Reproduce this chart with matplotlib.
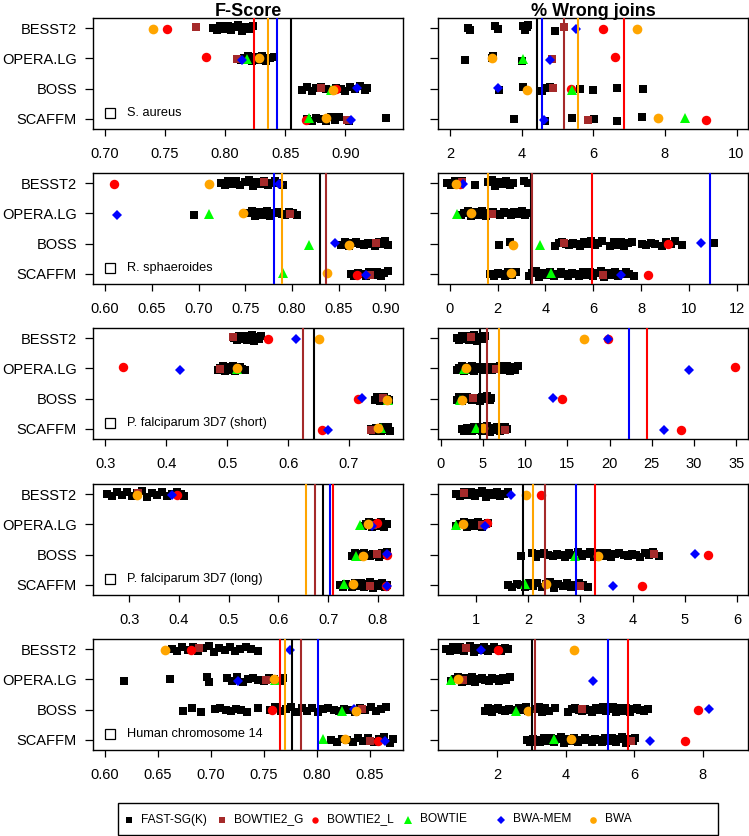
import matplotlib
matplotlib.use('Agg')
import matplotlib.pyplot as plt
from matplotlib.lines import Line2D
from matplotlib.patches import Rectangle

plt.rcParams['font.family'] = ['Liberation Sans', 'DejaVu Sans']

# ---------------- data ----------------
rows = ['BESST2', 'OPERA.LG', 'BOSS', 'SCAFFM']
methods = ['FAST-SG(K)', 'BOWTIE2_G', 'BOWTIE2_L', 'BOWTIE', 'BWA-MEM', 'BWA']
datasets = ['S. aureus', 'R. sphaeroides', 'P. falciparum 3D7 (short)',
            'P. falciparum 3D7 (long)', 'Human chromosome 14']

# S. aureus
sa_fs_fast = [
    [0.790, 0.793, 0.796, 0.799, 0.802, 0.805, 0.808, 0.811, 0.814, 0.817, 0.820, 0.823],
    [0.813, 0.816, 0.819, 0.822, 0.825, 0.828, 0.831, 0.834, 0.837, 0.841],
    [0.864, 0.868, 0.872, 0.876, 0.880, 0.884, 0.888, 0.892, 0.896, 0.900, 0.904, 0.908, 0.912, 0.916, 0.918],
    [0.868, 0.872, 0.876, 0.880, 0.884, 0.888, 0.891, 0.895, 0.903, 0.934],
]
sa_fs_tools = [  # BOWTIE2_G, BOWTIE2_L, BOWTIE, BWA-MEM, BWA
    [0.776, 0.752, None, None, 0.740],
    [0.810, 0.784, 0.818, 0.814, 0.828],
    [0.880, 0.892, 0.888, 0.910, 0.890],
    [0.901, 0.867, 0.870, 0.905, 0.884],
]
sa_fs_lines = [0.855, None, 0.824, None, 0.843, 0.836]
sa_wj_fast = [
    [2.51, 2.56, 3.26, 3.35, 4.05, 4.10, 4.14, 4.19, 4.93],
    [2.42, 3.16, 3.20, 4.00],
    [3.37, 4.05, 4.56, 4.65, 4.79, 5.63, 6.00, 6.67, 7.38],
    [3.80, 4.65, 5.40, 6.03, 6.67, 7.35],
]
sa_wj_tools = [
    [5.18, 6.26, None, 5.53, 7.21],
    [4.84, 6.60, 4.03, 4.79, 3.18],
    [4.87, 5.38, 5.41, 3.35, 4.14],
    [5.84, 9.14, 8.56, 4.62, 7.80],
]
sa_wj_lines = [4.42, 5.18, 6.86, None, 4.58, 5.58]

# R. sphaeroides
rs_fs_fast = [
    [0.724, 0.728, 0.732, 0.736, 0.740, 0.744, 0.750, 0.754, 0.758, 0.762, 0.766, 0.770, 0.774, 0.778, 0.782, 0.786, 0.790],
    [0.695, 0.753, 0.757, 0.761, 0.765, 0.769, 0.773, 0.777, 0.781, 0.785, 0.789, 0.793, 0.797, 0.801, 0.805],
    [0.853, 0.857, 0.861, 0.865, 0.869, 0.873, 0.877, 0.881, 0.885, 0.889, 0.893, 0.897, 0.900, 0.903],
    [0.863, 0.867, 0.871, 0.875, 0.879, 0.883, 0.887, 0.891, 0.895, 0.899, 0.903],
]
rs_fs_tools = [
    [0.770, 0.610, None, 0.786, 0.711],
    [0.798, None, 0.711, 0.613, 0.748],
    [0.890, None, 0.818, 0.846, 0.861],
    [0.884, 0.870, 0.790, 0.879, 0.838],
]
rs_fs_lines = [0.830, 0.836, None, None, 0.781, 0.789]
rs_wj_fast = [
    [-0.10, 0.05, 0.20, 0.35, 0.50, 1.05, 1.60, 1.75, 1.90, 2.05, 2.20, 2.35, 2.50, 2.65, 3.10, 3.25],
    [0.45, 0.60, 0.75, 0.90, 1.05, 1.20, 1.35, 1.50, 1.65, 1.80, 1.95, 2.10, 2.25, 2.40, 2.55, 2.70, 2.85, 3.00, 3.15, 3.30],
    [2.05, 2.51, 4.40, 4.55, 4.70, 4.85, 5.00, 5.15, 5.30, 5.45, 5.60, 5.75, 5.90, 6.05, 6.20, 6.35,
     6.70, 6.85, 7.00, 7.15, 7.30, 7.45, 7.60, 8.02, 8.20, 8.40, 8.58, 8.86, 9.05, 9.25, 9.42, 9.70, 11.02],
    [1.70, 1.85, 2.00, 2.15, 2.30, 2.45, 2.60, 2.75, 3.30, 3.45, 3.60, 3.75, 3.90, 4.05, 4.20, 4.35, 4.50,
     4.65, 4.80, 4.95, 5.10, 5.25, 5.40, 5.55, 5.70, 5.85, 6.00, 6.15, 6.30, 6.45, 6.60, 6.75, 6.90, 7.05,
     7.20, 7.35, 7.50, 7.70],
]
rs_wj_tools = [
    [0.52, 0.42, None, 0.56, 0.28],
    [1.77, None, 0.31, None, 0.87],
    [4.77, 9.10, 3.77, 10.51, 2.65],
    [6.42, 8.30, 4.21, 7.16, 2.54],
]
rs_wj_lines = [3.39, 3.42, 5.94, None, 10.86, 1.60]

# P. falciparum 3D7 (short)
pfs_fs_fast = [
    [0.512, 0.516, 0.520, 0.524, 0.528, 0.532, 0.536, 0.540, 0.544, 0.548, 0.552, 0.556],
    [0.485, 0.489, 0.493, 0.497, 0.501, 0.505, 0.509, 0.513, 0.517, 0.521, 0.525, 0.529],
    [0.742, 0.746, 0.750, 0.754, 0.758, 0.762, 0.766],
    [0.736, 0.740, 0.744, 0.748, 0.752, 0.756, 0.760, 0.764, 0.767],
]
pfs_fs_tools = [
    [0.510, 0.567, None, 0.613, 0.651],
    [0.489, 0.329, 0.516, 0.422, 0.517],
    [0.756, 0.714, 0.764, 0.722, 0.762],
    [0.736, 0.656, 0.752, 0.665, 0.748],
]
pfs_fs_lines = [0.642, 0.625, None, None, None, None]
pfs_wj_fast = [
    [1.9, 2.2, 2.5, 2.8, 3.1, 3.4, 3.7, 4.0, 4.3, 4.6, 4.9, 5.2],
    [1.9, 2.2, 2.5, 2.8, 3.1, 3.4, 3.7, 4.0, 4.3, 4.6, 4.9, 5.2, 5.5, 5.8, 6.1, 6.4, 6.7, 7.0, 7.3,
     7.6, 7.9, 8.2, 8.5, 8.8, 9.1],
    [1.9, 2.2, 2.5, 2.8, 3.1, 3.4, 3.7, 4.0, 4.3, 4.6, 4.9, 5.2, 5.5, 5.8, 6.0],
    [2.5, 2.8, 3.1, 3.4, 3.7, 4.0, 4.3, 4.6, 4.9, 5.2, 5.5, 5.8, 6.1, 6.4, 6.7, 7.0, 7.3, 7.6, 7.9],
]
pfs_wj_tools = [
    [3.64, 19.77, None, 19.85, 17.00],
    [6.60, 34.88, 2.77, 29.34, 3.04],
    [3.84, 14.31, 2.25, 13.25, 2.53],
    [7.59, 28.43, 4.15, 26.41, 5.02],
]
pfs_wj_lines = [4.63, 5.50, 24.40, None, 22.30, 6.92]

# P. falciparum 3D7 (long)
pfl_fs_fast = [
    [0.255, 0.265, 0.275, 0.285, 0.295, 0.305, 0.315, 0.325, 0.335, 0.345, 0.355, 0.365, 0.375,
     0.385, 0.395, 0.405, 0.410],
    [0.770, 0.776, 0.782, 0.788, 0.794, 0.800, 0.806, 0.812, 0.818],
    [0.748, 0.754, 0.760, 0.766, 0.772, 0.778, 0.784, 0.790, 0.796, 0.802, 0.808, 0.814, 0.818],
    [0.724, 0.730, 0.736, 0.742, 0.748, 0.754, 0.760, 0.766, 0.772, 0.778, 0.784, 0.790, 0.796,
     0.802, 0.808, 0.814, 0.818],
]
pfl_fs_tools = [
    [0.318, 0.395, None, 0.385, 0.316],
    [0.790, 0.798, 0.764, 0.788, 0.781],
    [0.798, 0.818, 0.757, 0.818, 0.771],
    [0.785, 0.817, 0.733, 0.818, 0.750],
]
pfl_fs_lines = [0.689, 0.674, 0.709, None, 0.703, 0.655]
pfl_wj_fast = [
    [0.63, 0.70, 0.77, 0.84, 0.91, 0.98, 1.05, 1.12, 1.19, 1.26, 1.33, 1.40, 1.47, 1.54, 1.61],
    [0.63, 0.70, 0.77, 0.84, 0.91, 0.98, 1.05, 1.12, 1.19, 1.24],
    [1.86, 2.07, 2.15, 2.23, 2.31, 2.39, 2.47, 2.55, 2.63, 2.71, 2.79, 2.87, 2.95, 3.03, 3.11, 3.19,
     3.27, 3.35, 3.43, 3.51, 3.59, 3.67, 3.75, 3.83, 3.91, 3.99, 4.07, 4.15, 4.23, 4.31, 4.39, 4.50],
    [1.62, 1.70, 1.78, 1.86, 1.94, 2.02, 2.10, 2.18, 2.26, 2.34, 2.42, 2.50, 2.58, 2.66, 2.74, 2.82,
     2.90, 2.98, 3.06, 3.15],
]
pfl_wj_tools = [
    [0.776, 2.24, None, 1.67, 1.96],
    [1.11, 1.22, 0.63, 1.17, 0.757],
    [4.41, 5.44, 2.89, 5.19, 3.33],
    [2.99, 4.18, 1.94, 3.63, 2.34],
]
pfl_wj_lines = [1.895, 2.32, 3.28, None, 2.92, 2.087]

# Human chromosome 14
hc_fs_fast = [
    [0.663, 0.668, 0.673, 0.678, 0.683, 0.688, 0.693, 0.698, 0.703, 0.708, 0.713, 0.718, 0.723,
     0.728, 0.733, 0.738, 0.745],
    [0.618, 0.661, 0.696, 0.698, 0.715, 0.720, 0.725, 0.730, 0.735, 0.740, 0.745, 0.750, 0.755,
     0.760, 0.765, 0.768],
    [0.674, 0.682, 0.691, 0.704, 0.709, 0.714, 0.719, 0.724, 0.729, 0.734, 0.745, 0.756, 0.761,
     0.766, 0.771, 0.776, 0.781, 0.786, 0.791, 0.796, 0.801, 0.806, 0.811, 0.816, 0.821, 0.826,
     0.831, 0.836, 0.841, 0.846, 0.851, 0.856, 0.861, 0.866],
    [0.814, 0.819, 0.824, 0.829, 0.834, 0.839, 0.844, 0.849, 0.854, 0.859, 0.864, 0.869, 0.872],
]
hc_fs_tools = [
    [0.689, 0.681, None, 0.775, 0.657],
    [0.752, None, 0.761, 0.726, 0.760],
    [0.843, 0.758, 0.824, 0.835, 0.837],
    [0.850, 0.858, 0.806, 0.865, 0.827],
]
hc_fs_lines = [0.777, 0.785, 0.765, None, 0.801, 0.770]
hc_wj_fast = [
    [0.51, 0.61, 0.71, 0.81, 0.91, 1.01, 1.11, 1.21, 1.31, 1.41, 1.51, 1.61, 1.71, 1.81, 1.91,
     2.01, 2.11, 2.21, 2.31],
    [0.65, 0.75, 0.85, 0.95, 1.05, 1.15, 1.25, 1.35, 1.45, 1.55, 1.65, 1.75, 1.85, 1.95, 2.05,
     2.15, 2.25, 2.36],
    [1.63, 1.73, 1.83, 1.93, 2.03, 2.13, 2.23, 2.33, 2.43, 2.53, 2.63, 2.73, 2.83, 2.90, 3.10,
     3.20, 3.30, 3.40, 3.50, 3.68, 4.07, 4.17, 4.27, 4.37, 4.47, 4.57, 4.67, 4.77, 4.87, 4.97,
     5.07, 5.17, 5.27, 5.37, 5.47, 5.57, 5.67, 5.77, 5.87, 5.97, 6.07, 6.17, 6.27, 6.41],
    [2.85, 2.95, 3.05, 3.15, 3.25, 3.35, 3.45, 3.55, 3.65, 3.75, 3.85, 3.95, 4.05, 4.15, 4.25,
     4.35, 4.45, 4.55, 4.65, 4.75, 4.85, 4.95, 5.05, 5.15, 5.25, 5.35, 5.45, 5.55, 5.65, 5.75,
     5.85, 5.95, 6.02],
]
hc_wj_tools = [
    [1.09, 2.02, None, 1.51, 4.23],
    [0.995, None, 0.63, 4.78, 0.85],
    [4.46, 7.87, 2.53, 8.17, 2.90],
    [5.90, 7.48, 3.66, 6.46, 4.14],
]
hc_wj_lines = [3.015, 3.11, 5.80, None, 5.22, None]

# ---------------- styles ----------------
colors = ['#000000', '#A52A2A', '#FF0000', '#00FF00', '#0000FF', '#FFA500']
markers = ['s', 's', 'o', '^', 'D', 'o']
msizes = [5.6, 6.0, 6.8, 7.5, 5.0, 7.0]
# fixed vertical spread pattern (stripchart-style jitter) for the dense FAST-SG rows
jit = [0.00, -0.07, 0.05, -0.02, 0.08, -0.05, 0.02, 0.09, -0.09, 0.04, -0.04, 0.07, -0.08, 0.01,
       0.06, -0.01, -0.06, 0.03]
tool_jit = [0.02, -0.03, 0.03, -0.02, -0.04]

panels = [
    (sa_fs_fast, sa_fs_tools, sa_fs_lines, sa_wj_fast, sa_wj_tools, sa_wj_lines,
     (0.690, 0.948), [0.70, 0.75, 0.80, 0.85, 0.90], ['0.70', '0.75', '0.80', '0.85', '0.90'],
     (1.665, 10.32), [2, 4, 6, 8, 10]),
    (rs_fs_fast, rs_fs_tools, rs_fs_lines, rs_wj_fast, rs_wj_tools, rs_wj_lines,
     (0.587, 0.919), [0.60, 0.65, 0.70, 0.75, 0.80, 0.85, 0.90],
     ['0.60', '0.65', '0.70', '0.75', '0.80', '0.85', '0.90'],
     (-0.49, 12.46), [0, 2, 4, 6, 8, 10, 12]),
    (pfs_fs_fast, pfs_fs_tools, pfs_fs_lines, pfs_wj_fast, pfs_wj_tools, pfs_wj_lines,
     (0.280, 0.7885), [0.3, 0.4, 0.5, 0.6, 0.7], ['0.3', '0.4', '0.5', '0.6', '0.7'],
     (-0.32, 36.38), [0, 5, 10, 15, 20, 25, 30, 35]),
    (pfl_fs_fast, pfl_fs_tools, pfl_fs_lines, pfl_wj_fast, pfl_wj_tools, pfl_wj_lines,
     (0.227, 0.8507), [0.3, 0.4, 0.5, 0.6, 0.7, 0.8], ['0.3', '0.4', '0.5', '0.6', '0.7', '0.8'],
     (0.277, 6.21), [1, 2, 3, 4, 5, 6]),
    (hc_fs_fast, hc_fs_tools, hc_fs_lines, hc_wj_fast, hc_wj_tools, hc_wj_lines,
     (0.5887, 0.8816), [0.60, 0.65, 0.70, 0.75, 0.80, 0.85],
     ['0.60', '0.65', '0.70', '0.75', '0.80', '0.85'],
     (0.263, 9.32), [2, 4, 6, 8]),
]

W, H = 749, 836
fig = plt.figure(figsize=(W / 100, H / 100), dpi=100)

tops = [18, 173, 328, 484, 639]
ph = 111
lefts = [93, 438]
pw = 310


def draw(ax, fast, tools, lines, xlim, xticks, xlabels, show_y):
    ax.set_xlim(*xlim)
    ax.set_ylim(0.67, 4.33)
    for r, vals in enumerate(fast):
        y = 4 - r
        ys = [y + jit[(j + 5 * r) % len(jit)] for j in range(len(vals))]
        ax.plot(vals, ys, linestyle='none', marker=markers[0],
                color=colors[0], ms=msizes[0], mew=0, zorder=2)
    for k in range(5):
        for r in range(4):
            v = tools[r][k]
            if v is None:
                continue
            ax.plot([v], [4 - r + tool_jit[(k + r) % 5]], linestyle='none', marker=markers[k + 1],
                    color=colors[k + 1], ms=msizes[k + 1], mew=0, zorder=3 + k)
    for k, v in enumerate(lines):
        if v is not None:
            ax.axvline(v, color=colors[k], lw=1.5, zorder=10)
    ax.set_xticks(xticks)
    ax.set_xticklabels(xlabels if xlabels else [str(t) for t in xticks])
    ax.set_yticks([4, 3, 2, 1])
    if show_y:
        ax.set_yticklabels(rows)
    else:
        ax.set_yticklabels([])
    ax.tick_params(axis='x', direction='out', length=5, width=0.9, labelsize=10.5, pad=8)
    ax.tick_params(axis='y', direction='out', length=6, width=0.9, labelsize=10.5, pad=5.5)
    for s in ax.spines.values():
        s.set_linewidth(1.0)


for i, p in enumerate(panels):
    (ffast, ftools, flines, wfast, wtools, wlines, fxlim, fxt, fxl, wxlim, wxt) = p
    bottom = 1 - (tops[i] + ph) / H
    axl = fig.add_axes([lefts[0] / W, bottom, pw / W, ph / H])
    axr = fig.add_axes([lefts[1] / W, bottom, pw / W, ph / H])
    draw(axl, ffast, ftools, flines, fxlim, fxt, fxl, True)
    draw(axr, wfast, wtools, wlines, wxlim, wxt, None, False)
    axl.plot([0.055], [0.145], transform=axl.transAxes, marker='s', ms=6.5,
             mfc='none', mec='black', mew=0.9, linestyle='none', zorder=20)
    axl.text(0.11, 0.145, datasets[i], transform=axl.transAxes, fontsize=9.2,
             va='center', ha='left', zorder=20)

fig.text(248 / W, 1 - 16.5 / H, 'F-Score', fontsize=13, fontweight='bold',
         ha='center', va='baseline')
fig.text(593 / W, 1 - 16.5 / H, '% Wrong joins', fontsize=13, fontweight='bold',
         ha='center', va='baseline')

# legend (manual, equally spaced columns)
lx0, lx1, ly0, ly1 = 118, 718, 803, 835
fig.add_artist(Rectangle((lx0 / W, 1 - ly1 / H), (lx1 - lx0) / W, (ly1 - ly0) / H,
                         transform=fig.transFigure, fill=False, ec='black', lw=1.0))
mk_x = [129, 221.7, 315, 407.7, 500.7, 592.7]
leg_ms = [4.2, 4.2, 4.6, 5.2, 3.6, 4.8]
ly = 1 - 819.5 / H
for k, name in enumerate(methods):
    fig.add_artist(Line2D([mk_x[k] / W], [ly], transform=fig.transFigure, marker=markers[k],
                          color=colors[k], ms=leg_ms[k], mew=0, linestyle='none'))
    fig.text((mk_x[k] + 12) / W, ly, name, fontsize=8.6, va='center', ha='left')

fig.savefig('out.png', dpi=100)
